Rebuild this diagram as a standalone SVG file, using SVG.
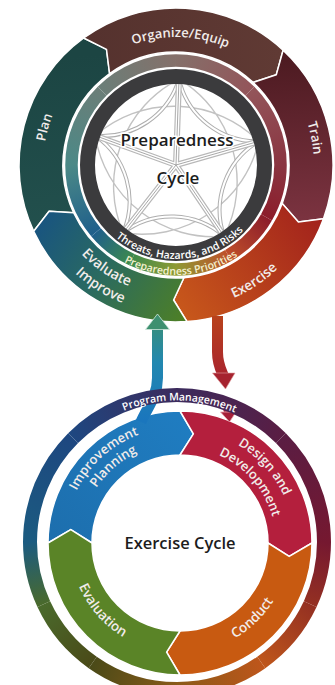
<svg xmlns="http://www.w3.org/2000/svg" width="335" height="685" viewBox="0 0 335 685">
<style>
.seg{stroke:#fff;stroke-width:1.5;stroke-linejoin:round}
.lbl{font-family:"Open Sans","Liberation Sans",sans-serif;font-weight:600;fill:#f1ecea}
.ring{fill:none;stroke-width:12.5}
.ring2{fill:none;stroke-width:14}
.ctr{font-family:"Open Sans","Liberation Sans",sans-serif;font-weight:600;fill:#1c1c1c;text-anchor:middle}
.pat{fill:none;stroke-linecap:round}
</style>
<defs>
<linearGradient id="gPlan" gradientUnits="userSpaceOnUse" x1="40" y1="60" x2="60" y2="230"><stop offset="0" stop-color="#1c4543"/><stop offset="1" stop-color="#22504d"/></linearGradient>
<linearGradient id="gOrg" gradientUnits="userSpaceOnUse" x1="90" y1="40" x2="280" y2="50"><stop offset="0" stop-color="#55322e"/><stop offset="1" stop-color="#603a34"/></linearGradient>
<linearGradient id="gTrain" gradientUnits="userSpaceOnUse" x1="290" y1="60" x2="300" y2="220"><stop offset="0" stop-color="#4e1b22"/><stop offset="1" stop-color="#7b3340"/></linearGradient>
<linearGradient id="gEx" gradientUnits="userSpaceOnUse" x1="320" y1="215" x2="180" y2="315"><stop offset="0" stop-color="#a2221c"/><stop offset="1" stop-color="#c8581b"/></linearGradient>
<linearGradient id="gEval" gradientUnits="userSpaceOnUse" x1="40" y1="225" x2="185" y2="315"><stop offset="0" stop-color="#19557f"/><stop offset="0.45" stop-color="#2a6a60"/><stop offset="1" stop-color="#4d7f27"/></linearGradient>
<linearGradient id="gBlue" gradientUnits="userSpaceOnUse" x1="60" y1="540" x2="180" y2="420"><stop offset="0" stop-color="#1d6fae"/><stop offset="1" stop-color="#1f7cc0"/></linearGradient>
<linearGradient id="gArrL" gradientUnits="userSpaceOnUse" x1="0" y1="315" x2="0" y2="420"><stop offset="0" stop-color="#3d9070"/><stop offset="0.45" stop-color="#2288b0"/><stop offset="1" stop-color="#1a76bd"/></linearGradient>
<linearGradient id="gArrR" gradientUnits="userSpaceOnUse" x1="0" y1="316" x2="0" y2="425"><stop offset="0" stop-color="#b8421c"/><stop offset="0.6" stop-color="#a82230"/><stop offset="1" stop-color="#a51e38"/></linearGradient>
<linearGradient id="r1" gradientUnits="userSpaceOnUse" x1="176" y1="60.5" x2="249.9" y2="91.1"><stop offset="0" stop-color="#85706a"/><stop offset="1" stop-color="#93555a"/></linearGradient>
<linearGradient id="r2" gradientUnits="userSpaceOnUse" x1="249.9" y1="91.1" x2="280.5" y2="165"><stop offset="0" stop-color="#93555a"/><stop offset="1" stop-color="#8a3541"/></linearGradient>
<linearGradient id="r3" gradientUnits="userSpaceOnUse" x1="280.5" y1="165" x2="266.5" y2="217.3"><stop offset="0" stop-color="#8a3541"/><stop offset="1" stop-color="#8c1d2b"/></linearGradient>
<linearGradient id="r4" gradientUnits="userSpaceOnUse" x1="266.5" y1="217.3" x2="228.3" y2="255.5"><stop offset="0" stop-color="#8c1d2b"/><stop offset="1" stop-color="#bf4f2a"/></linearGradient>
<linearGradient id="r5" gradientUnits="userSpaceOnUse" x1="228.3" y1="255.5" x2="176" y2="269.5"><stop offset="0" stop-color="#bf4f2a"/><stop offset="1" stop-color="#8e9a33"/></linearGradient>
<linearGradient id="r6" gradientUnits="userSpaceOnUse" x1="176" y1="269.5" x2="131.8" y2="259.7"><stop offset="0" stop-color="#8e9a33"/><stop offset="1" stop-color="#3d8a4c"/></linearGradient>
<linearGradient id="r7" gradientUnits="userSpaceOnUse" x1="131.8" y1="259.7" x2="96" y2="232.2"><stop offset="0" stop-color="#3d8a4c"/><stop offset="1" stop-color="#1f5f8b"/></linearGradient>
<linearGradient id="r8" gradientUnits="userSpaceOnUse" x1="96" y1="232.2" x2="71.5" y2="165"><stop offset="0" stop-color="#1f5f8b"/><stop offset="1" stop-color="#4b8987"/></linearGradient>
<linearGradient id="r9" gradientUnits="userSpaceOnUse" x1="71.5" y1="165" x2="102.1" y2="91.1"><stop offset="0" stop-color="#4b8987"/><stop offset="1" stop-color="#6b7e78"/></linearGradient>
<linearGradient id="r10" gradientUnits="userSpaceOnUse" x1="102.1" y1="91.1" x2="176" y2="60.5"><stop offset="0" stop-color="#6b7e78"/><stop offset="1" stop-color="#85706a"/></linearGradient>
<linearGradient id="q1" gradientUnits="userSpaceOnUse" x1="177" y1="395" x2="280.9" y2="438.1"><stop offset="0" stop-color="#3c2b5d"/><stop offset="1" stop-color="#5a1d43"/></linearGradient>
<linearGradient id="q2" gradientUnits="userSpaceOnUse" x1="280.9" y1="438.1" x2="324" y2="542"><stop offset="0" stop-color="#5a1d43"/><stop offset="1" stop-color="#751830"/></linearGradient>
<linearGradient id="q3" gradientUnits="userSpaceOnUse" x1="324" y1="542" x2="310.2" y2="604.1"><stop offset="0" stop-color="#751830"/><stop offset="1" stop-color="#943022"/></linearGradient>
<linearGradient id="q4" gradientUnits="userSpaceOnUse" x1="310.2" y1="604.1" x2="261.3" y2="662.4"><stop offset="0" stop-color="#943022"/><stop offset="1" stop-color="#be561b"/></linearGradient>
<linearGradient id="q5" gradientUnits="userSpaceOnUse" x1="261.3" y1="662.4" x2="177" y2="689"><stop offset="0" stop-color="#be561b"/><stop offset="1" stop-color="#8a5a18"/></linearGradient>
<linearGradient id="q6" gradientUnits="userSpaceOnUse" x1="177" y1="689" x2="92.7" y2="662.4"><stop offset="0" stop-color="#8a5a18"/><stop offset="1" stop-color="#4a4a18"/></linearGradient>
<linearGradient id="q7" gradientUnits="userSpaceOnUse" x1="92.7" y1="662.4" x2="43.8" y2="604.1"><stop offset="0" stop-color="#4a4a18"/><stop offset="1" stop-color="#4a6a2c"/></linearGradient>
<linearGradient id="q8" gradientUnits="userSpaceOnUse" x1="43.8" y1="604.1" x2="30" y2="542"><stop offset="0" stop-color="#4a6a2c"/><stop offset="1" stop-color="#1b5b80"/></linearGradient>
<linearGradient id="q9" gradientUnits="userSpaceOnUse" x1="30" y1="542" x2="73.1" y2="438.1"><stop offset="0" stop-color="#1b5b80"/><stop offset="1" stop-color="#1e4780"/></linearGradient>
<linearGradient id="q10" gradientUnits="userSpaceOnUse" x1="73.1" y1="438.1" x2="177" y2="395"><stop offset="0" stop-color="#1e4780"/><stop offset="1" stop-color="#3c2b5d"/></linearGradient>
<clipPath id="inner"><circle cx="176" cy="165" r="81"/></clipPath>
<path id="tpOrg" d="M80.9,79.4 A128,128 0 0 1 276.9,86.2"/>
<path id="tpTrain" d="M262.8,57.8 A138,138 0 0 1 296.7,231.9"/>
<path id="tpPlan" d="M54.5,219.1 A133,133 0 0 1 101.6,54.7"/>
<path id="tpEx" d="M160.8,309.2 A145,145 0 0 0 315.4,205.0"/>
<path id="tpEval" d="M51.0,200.8 A130,130 0 0 0 189.6,294.3"/>
<path id="tpImp" d="M35.2,210.7 A148,148 0 0 0 196.6,311.6"/>
<path id="tpPP" d="M78.9,216.6 A110,110 0 0 0 278.0,206.2"/>
<path id="tpTh" d="M89.5,201.7 A94,94 0 0 0 265.9,192.5"/>
<path id="tpImpr" d="M64.1,547.0 A116,116 0 0 1 196.1,428.1"/>
<path id="tpPlanning" d="M80.0,544.7 A100,100 0 0 1 195.6,444.2"/>
<path id="tpDes" d="M176.0,429.1 A114,114 0 0 1 292.9,558.9"/>
<path id="tpDev" d="M178.3,447.0 A96,96 0 0 1 274.8,558.0"/>
<path id="tpCon" d="M168.5,652.4 A110,110 0 0 0 289.7,535.3"/>
<path id="tpEvn" d="M71.4,525.8 A110,110 0 0 0 181.9,653.0"/>
<path id="tpPM" d="M55.7,469.1 A141.5,141.5 0 0 1 300.8,473.4"/>
<path id="radials" d="M176,165 L179.0,79.1 M176,165 L258.7,141.3 M176,165 L224.1,236.3 M176,165 L123.1,232.8 M176,165 L95.2,135.6"/>
<path id="adj" d="M179.0,79.1 A80,80 0 0 0 258.7,141.3 M258.7,141.3 A80,80 0 0 0 224.1,236.3 M224.1,236.3 A80,80 0 0 0 123.1,232.8 M123.1,232.8 A80,80 0 0 0 95.2,135.6 M95.2,135.6 A80,80 0 0 0 179.0,79.1"/>
<path id="star" d="M179.0,79.1 A120,120 0 0 1 224.1,236.3 M258.7,141.3 A120,120 0 0 1 123.1,232.8 M224.1,236.3 A120,120 0 0 1 95.2,135.6 M123.1,232.8 A120,120 0 0 1 179.0,79.1 M95.2,135.6 A120,120 0 0 1 258.7,141.3"/>
</defs>
<rect width="335" height="685" fill="#fff"/>

<g id="top-circle">
<g id="plan"><path class="seg" fill="url(#gPlan)" d="M33.7,231.3 A157,157 0 0 1 83.7,38.0 L106.5,49.3 L109.6,73.6 A113,113 0 0 0 73.6,212.8 L49.1,211.2 Z"/>
<text class="lbl" font-size="13"><textPath href="#tpPlan" startOffset="50%" text-anchor="middle">Plan</textPath></text></g>
<g id="organize"><path class="seg" fill="url(#gOrg)" d="M83.7,38.0 A157,157 0 0 1 283.1,50.2 L276.3,74.7 L253.1,82.4 A113,113 0 0 0 109.6,73.6 L106.5,49.3 Z"/>
<text class="lbl" font-size="13"><textPath href="#tpOrg" startOffset="50%" text-anchor="middle">Organize/Equip</textPath></text></g>
<g id="train"><path class="seg" fill="url(#gTrain)" d="M283.1,50.2 A157,157 0 0 1 323.5,218.7 L298.4,222.1 L282.2,203.6 A113,113 0 0 0 253.1,82.4 L276.3,74.7 Z"/>
<text class="lbl" font-size="13"><textPath href="#tpTrain" startOffset="50%" text-anchor="middle">Train</textPath></text></g>
<g id="exercise"><path class="seg" fill="url(#gEx)" d="M323.5,218.7 A157,157 0 0 1 187.0,321.6 L173.6,300.0 L183.9,277.7 A113,113 0 0 0 282.2,203.6 L298.4,222.1 Z"/>
<text class="lbl" font-size="13.5"><textPath href="#tpEx" startOffset="50%" text-anchor="middle">Exercise</textPath></text></g>
<g id="evaluate"><path class="seg" fill="url(#gEval)" d="M187.0,321.6 A157,157 0 0 1 33.7,231.3 L49.1,211.2 L73.6,212.8 A113,113 0 0 0 183.9,277.7 L173.6,300.0 Z"/>
<text class="lbl" font-size="14"><textPath href="#tpEval" startOffset="50%" text-anchor="middle">Evaluate</textPath></text>
<text class="lbl" font-size="14"><textPath href="#tpImp" startOffset="50%" text-anchor="middle">Improve</textPath></text></g>

<g id="priorities-ring">
<path class="ring" stroke="url(#r1)" d="M176,60.5 A104.5,104.5 0 0 1 249.9,91.1"/>
<path class="ring" stroke="url(#r2)" d="M249.9,91.1 A104.5,104.5 0 0 1 280.5,165"/>
<path class="ring" stroke="url(#r3)" d="M280.5,165 A104.5,104.5 0 0 1 266.5,217.3"/>
<path class="ring" stroke="url(#r4)" d="M266.5,217.3 A104.5,104.5 0 0 1 228.3,255.5"/>
<path class="ring" stroke="url(#r5)" d="M228.3,255.5 A104.5,104.5 0 0 1 176,269.5"/>
<path class="ring" stroke="url(#r6)" d="M176,269.5 A104.5,104.5 0 0 1 131.8,259.7"/>
<path class="ring" stroke="url(#r7)" d="M131.8,259.7 A104.5,104.5 0 0 1 96,232.2"/>
<path class="ring" stroke="url(#r8)" d="M96,232.2 A104.5,104.5 0 0 1 71.5,165"/>
<path class="ring" stroke="url(#r9)" d="M71.5,165 A104.5,104.5 0 0 1 102.1,91.1"/>
<path class="ring" stroke="url(#r10)" d="M102.1,91.1 A104.5,104.5 0 0 1 176,60.5"/>
<text class="lbl" font-size="10.6" font-weight="700" style="fill:#f4f1cf"><textPath href="#tpPP" startOffset="50%" text-anchor="middle">Preparedness Priorities</textPath></text>
</g>

<g id="core">
<g clip-path="url(#inner)">
<use href="#star" class="pat" stroke="#c2c2c2" stroke-width="1.4"/>
<use href="#adj" class="pat" stroke="#aeaeae" stroke-width="4"/>
<use href="#adj" class="pat" stroke="#fff" stroke-width="2"/>
<use href="#radials" class="pat" stroke="#b8b8b8" stroke-width="6"/>
<use href="#radials" class="pat" stroke="#fff" stroke-width="3.6"/>
<use href="#radials" class="pat" stroke="#a8a8a8" stroke-width="1"/>
</g>
<circle cx="176" cy="165" r="88.5" fill="none" stroke="#3b3b3d" stroke-width="15"/>
<text class="lbl" font-size="10.6" font-weight="700" style="fill:#fff"><textPath href="#tpTh" startOffset="50%" text-anchor="middle">Threats, Hazards, and Risks</textPath></text>
<text class="ctr" x="177" y="146" font-size="17" font-weight="500" stroke="#fff" stroke-width="3" paint-order="stroke">Preparedness</text>
<text class="ctr" x="178" y="184" font-size="17" font-weight="500" stroke="#fff" stroke-width="3" paint-order="stroke">Cycle</text>
</g>
</g>

<g id="bottom-circle">
<g id="improvement-planning"><path class="seg" fill="url(#gBlue)" d="M48,543 A132,132 0 0 1 180,411 L193.4,433.8 L180,455 A88,88 0 0 0 92,543 L70.8,529.6 Z"/>
<text class="lbl" font-size="13"><textPath href="#tpImpr" startOffset="50%" text-anchor="middle">Improvement</textPath></text>
<text class="lbl" font-size="13"><textPath href="#tpPlanning" startOffset="50%" text-anchor="middle">Planning</textPath></text></g>
<g id="design"><path class="seg" fill="#b41f3d" d="M180,411 A132,132 0 0 1 312,543 L289.2,556.4 L268,543 A88,88 0 0 0 180,455 L193.4,433.8 Z"/>
<text class="lbl" font-size="13"><textPath href="#tpDes" startOffset="50%" text-anchor="middle">Design and</textPath></text>
<text class="lbl" font-size="13"><textPath href="#tpDev" startOffset="50%" text-anchor="middle">Development</textPath></text></g>
<g id="conduct"><path class="seg" fill="#c85a11" d="M312,543 A132,132 0 0 1 180,675 L166.6,652.2 L180,631 A88,88 0 0 0 268,543 L289.2,556.4 Z"/>
<text class="lbl" font-size="13.5"><textPath href="#tpCon" startOffset="50%" text-anchor="middle">Conduct</textPath></text></g>
<g id="evaluation"><path class="seg" fill="#5a8427" d="M180,675 A132,132 0 0 1 48,543 L70.8,529.6 L92,543 A88,88 0 0 0 180,631 L166.6,652.2 Z"/>
<text class="lbl" font-size="13.5"><textPath href="#tpEvn" startOffset="50%" text-anchor="middle">Evaluation</textPath></text></g>
<text id="exercise-cycle" class="ctr" x="180" y="549" font-size="16.5">Exercise Cycle</text>
</g>

<g id="connectors">
<path d="M141,422 C147,408 157.5,396 157.5,378 L157.5,328" fill="none" stroke="url(#gArrL)" stroke-width="11"/>
<polygon points="145.5,329.5 157.5,314 169.5,329.5" fill="#3e9070" stroke="#cfe6dc" stroke-width="0.8"/>
<path d="M217.5,316 L217.5,352 C217.5,364 221,370 223.5,376" fill="none" stroke="url(#gArrR)" stroke-width="11"/>
<polygon points="212.5,373 235,373 225.5,389" fill="#a6232f" stroke="#e0a0a0" stroke-width="0.6"/>
<path d="M225,400 L228.5,414" fill="none" stroke="#a51e38" stroke-width="8"/>
<polygon points="220.5,412 236,412 229.5,422" fill="#a51e38" stroke="#eba8b2" stroke-width="0.8"/>
</g>

<g id="program-management">
<path class="ring2" stroke="url(#q1)" d="M177,395 A147,147 0 0 1 280.9,438.1"/>
<path class="ring2" stroke="url(#q2)" d="M280.9,438.1 A147,147 0 0 1 324,542"/>
<path class="ring2" stroke="url(#q3)" d="M324,542 A147,147 0 0 1 310.2,604.1"/>
<path class="ring2" stroke="url(#q4)" d="M310.2,604.1 A147,147 0 0 1 261.3,662.4"/>
<path class="ring2" stroke="url(#q5)" d="M261.3,662.4 A147,147 0 0 1 177,689"/>
<path class="ring2" stroke="url(#q6)" d="M177,689 A147,147 0 0 1 92.7,662.4"/>
<path class="ring2" stroke="url(#q7)" d="M92.7,662.4 A147,147 0 0 1 43.8,604.1"/>
<path class="ring2" stroke="url(#q8)" d="M43.8,604.1 A147,147 0 0 1 30,542"/>
<path class="ring2" stroke="url(#q9)" d="M30,542 A147,147 0 0 1 73.1,438.1"/>
<path class="ring2" stroke="url(#q10)" d="M73.1,438.1 A147,147 0 0 1 177,395"/>
<text class="lbl" font-size="10.5" style="fill:#fff"><textPath href="#tpPM" startOffset="50%" text-anchor="middle">Program Management</textPath></text>
</g>
</svg>
